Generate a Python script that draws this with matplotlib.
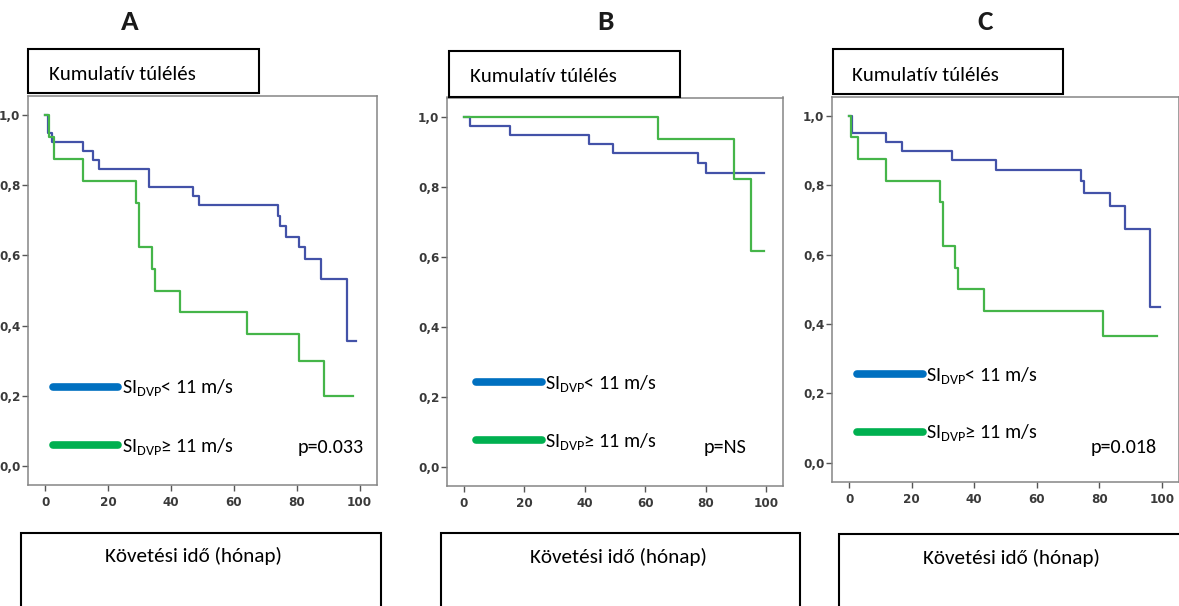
import matplotlib
matplotlib.use('Agg')
import matplotlib.pyplot as plt
from matplotlib.patches import Rectangle
from matplotlib.lines import Line2D

W, H = 1179, 606
DPI = 100

plt.rcParams['font.family'] = ['Carlito', 'Lato', 'DejaVu Sans']
plt.rcParams['mathtext.default'] = 'regular'

# ---------------- data ----------------
panel_letters = ['A', 'B', 'C']
ylabel_text = 'Kumulatív túlélés'
xlabel_text = 'Követési idő (hónap)'
p_values = ['p=0.033', 'p=NS', 'p=0.018']
legend_labels = ['SI$_{DVP}$< 11 m/s', 'SI$_{DVP}$≥ 11 m/s']
xticks = [0, 20, 40, 60, 80, 100]
yticks = [0.0, 0.2, 0.4, 0.6, 0.8, 1.0]
ytick_labels = ['0,0', '0,2', '0,4', '0,6', '0,8', '1,0']

# Panel A
a_low_t = [0, 1.0, 2.0, 12.0, 15.1, 17.0, 33.0, 47.0, 49.0, 74.0, 74.8, 76.7, 80.8, 82.7, 87.8, 95.8, 98.9]
a_low_s = [1.0, 0.949, 0.923, 0.897, 0.872, 0.846, 0.795, 0.769, 0.744, 0.713, 0.683, 0.654, 0.624, 0.591, 0.532, 0.355, 0.355]
a_high_t = [0, 1.2, 2.8, 12.0, 29.0, 29.9, 34.0, 34.9, 43.0, 64.0, 80.8, 88.8, 97.9]
a_high_s = [1.0, 0.9375, 0.875, 0.8125, 0.75, 0.625, 0.5625, 0.5, 0.4375, 0.375, 0.30, 0.20, 0.20]

# Panel B
b_low_t = [0, 2.0, 15.2, 41.3, 49.2, 77.3, 80.0, 99.3]
b_low_s = [1.0, 0.974, 0.949, 0.923, 0.897, 0.868, 0.839, 0.839]
b_high_t = [0, 64.2, 89.2, 95.0, 99.1]
b_high_s = [1.0, 0.9375, 0.821, 0.615, 0.615]

# Panel C
c_low_t = [0, 0.9, 11.8, 16.8, 32.9, 47.0, 74.2, 75.0, 83.3, 88.3, 96.3, 99.5]
c_low_s = [1.0, 0.949, 0.923, 0.897, 0.871, 0.843, 0.813, 0.777, 0.740, 0.674, 0.45, 0.45]
c_high_t = [0, 0.6, 2.7, 11.8, 28.9, 29.9, 33.9, 34.8, 43.0, 81.3, 98.4]
c_high_s = [1.0, 0.9375, 0.875, 0.8125, 0.75, 0.625, 0.5625, 0.5, 0.4375, 0.365, 0.365]

series = [((a_low_t, a_low_s), (a_high_t, a_high_s)),
          ((b_low_t, b_low_s), (b_high_t, b_high_s)),
          ((c_low_t, c_low_s), (c_high_t, c_high_s))]

# ---------------- layout (pixels from top-left) ----------------
layout = [
    dict(ax=(28, 96, 377, 485), letter=(130, 22),
         ybox=(28, 49, 259, 93), ytext=(49, 74),
         xbox=(21, 533, 381, 610), xtext=(193, 556),
         leg_x=(53, 118), leg_y=(386.7, 445), leg_tx=121.5,
         p=(364, 447)),
    dict(ax=(447, 97.5, 783, 486), letter=(605, 22),
         ybox=(449, 51, 680, 97), ytext=(470, 77),
         xbox=(441, 533, 800, 610), xtext=(618, 557),
         leg_x=(476, 542), leg_y=(382.3, 440), leg_tx=545,
         p=(747, 448)),
    dict(ax=(832, 96.6, 1179, 482), letter=(985, 22),
         ybox=(833, 49, 1063, 94), ytext=(852, 75.5),
         xbox=(839, 534, 1190, 610), xtext=(1011, 558),
         leg_x=(857, 923), leg_y=(374, 431.7), leg_tx=926,
         p=(1157, 448)),
]

KM_BLUE = '#4352A8'
KM_GREEN = '#45B549'
LEG_BLUE = '#0070C0'
LEG_GREEN = '#00B050'
FRAME = '#858585'

fig = plt.figure(figsize=(W / DPI, H / DPI), dpi=DPI)
fig.patch.set_facecolor('white')


def fx(x):
    return x / W


def fy(y):
    return 1 - y / H


tick_font = dict(family=['DejaVu Sans'], stretch='condensed',
                 size=9.5, weight='bold', color='#3a3a3a')

for i, L in enumerate(layout):
    l, t, r, b = L['ax']
    ax = fig.add_axes([fx(l), fy(b), (r - l) / W, (b - t) / H])
    ax.set_xlim(-5.5, 105.5)
    ax.set_ylim(-0.055, 1.055)
    for sp in ax.spines.values():
        sp.set_color(FRAME)
        sp.set_linewidth(1.1)
    ax.set_xticks(xticks)
    ax.set_yticks(yticks)
    ax.set_xticklabels([str(v) for v in xticks], **tick_font)
    ax.set_yticklabels(ytick_labels, **tick_font)
    ax.tick_params(direction='out', length=4, width=1, color='#555555', pad=1.5)
    ax.tick_params(axis='x', pad=4)

    (lt, ls), (ht, hs) = series[i]
    ax.step(lt, ls, where='post', color=KM_BLUE, lw=1.6, zorder=3)
    ax.step(ht, hs, where='post', color=KM_GREEN, lw=1.6, zorder=4)

    # legend-like annotation
    x0, x1 = L['leg_x']
    for y, col, lab in zip(L['leg_y'], [LEG_BLUE, LEG_GREEN], legend_labels):
        fig.add_artist(Line2D([fx(x0), fx(x1)], [fy(y), fy(y)], color=col, lw=5.5,
                              solid_capstyle='round', transform=fig.transFigure))
        fig.text(fx(L['leg_tx']), fy(y + 6.6), lab, fontsize=14.5, ha='left',
                 va='baseline', color='black')

    px, py = L['p']
    fig.text(fx(px), fy(py), p_values[i], fontsize=14.5, ha='right', va='center',
             color='black')

    # panel letter
    fig.text(fx(L['letter'][0]), fy(L['letter'][1]), panel_letters[i], fontsize=21,
             weight='bold', ha='center', va='center', color='#1a1a1a')

    # y-label box
    bx0, by0, bx1, by1 = L['ybox']
    fig.add_artist(Rectangle((fx(bx0), fy(by1)), (bx1 - bx0) / W, (by1 - by0) / H,
                             fill=True, fc='white', ec='black', lw=1.5,
                             transform=fig.transFigure, zorder=5))
    fig.text(fx(L['ytext'][0]), fy(L['ytext'][1]), ylabel_text, fontsize=15,
             ha='left', va='center', color='black', zorder=6)

    # x-label box
    bx0, by0, bx1, by1 = L['xbox']
    fig.add_artist(Rectangle((fx(bx0), fy(by1)), (bx1 - bx0) / W, (by1 - by0) / H,
                             fill=False, ec='black', lw=1.5,
                             transform=fig.transFigure, zorder=5))
    fig.text(fx(L['xtext'][0]), fy(L['xtext'][1]), xlabel_text, fontsize=15.2,
             ha='center', va='center', color='black', zorder=6)

fig.savefig('out.png', dpi=DPI)
